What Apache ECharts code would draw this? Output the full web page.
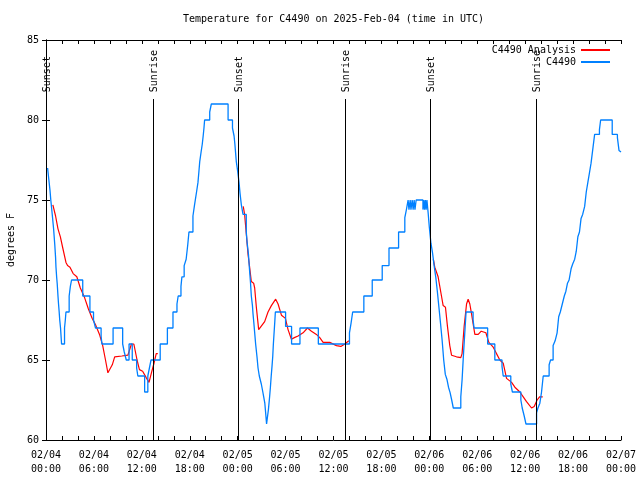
<!DOCTYPE html>
<html><head><meta charset="utf-8">
<script src="https://cdn.jsdelivr.net/npm/echarts@6/dist/echarts.min.js"></script>
<style>html,body{margin:0;padding:0;background:#fff}#c{width:640px;height:480px}</style>
</head><body><div id="c"></div>
<script>
// Hours since 2025-02-04 00:00 UTC
const blueHours = [0.2,0.35,0.5,0.6,0.7,0.8,0.95,1.1,1.2,1.25,1.33,1.4,1.5,1.57,1.65,1.72,1.82,1.95,2.32,2.42,2.5,2.9,3.05,3.2,4.6,5.5,5.95,6.2,6.9,7.0,8.4,9.6,9.8,10.05,10.4,10.8,11.35,11.5,12.35,12.75,12.95,13.15,14.3,15.2,15.9,16.4,16.55,16.9,17.02,17.3,17.55,17.75,17.9,18.4,18.6,18.85,19.03,19.15,19.25,19.42,19.57,19.68,19.78,19.86,20.5,20.7,22.8,23.35,23.55,23.65,23.83,24.0,24.17,24.3,24.46,24.67,25.08,25.17,25.35,25.46,25.6,25.71,25.85,25.92,26.03,26.13,26.25,26.42,26.55,26.71,26.96,27.15,27.26,27.4,27.47,27.62,27.85,28.0,28.1,28.2,28.3,28.39,28.47,28.56,28.65,28.72,30.0,30.75,31.8,34.1,38.0,38.2,38.4,39.8,40.85,42.1,42.95,44.15,44.93,45.13,45.34,45.45,45.6,45.7,45.85,45.97,46.1,46.2,46.35,47.2,47.3,47.4,47.5,47.6,47.7,47.85,48.0,48.2,48.4,48.6,48.8,49.0,49.2,49.4,49.6,49.8,50.0,50.2,50.4,50.6,50.8,51.0,51.94,52.1,52.28,52.44,52.6,53.48,53.6,55.3,56.2,57.1,57.25,58.2,58.4,59.46,59.63,59.88,60.1,61.43,61.6,61.84,62.05,62.26,63.0,63.18,63.5,63.75,64.0,64.2,64.4,64.65,64.9,65.1,65.3,65.5,65.75,65.95,66.2,66.4,66.6,66.8,67.0,67.2,67.45,67.65,67.85,68.05,68.25,68.5,68.7,69.3,69.45,70.9,71.55,71.75,72.0];
const blueTemps = [77.0,76.3,75.6,75.0,74.5,74.0,73.2,72.2,71.4,70.8,70.2,69.8,69.0,68.5,68.0,67.5,67.0,66.0,67.0,67.5,68.0,69.0,69.6,70.0,69.0,68.0,67.5,67.0,66.5,66.0,67.0,66.0,65.5,65.0,66.0,65.0,64.5,64.0,63.0,64.0,64.5,65.0,66.0,67.0,68.0,68.5,69.0,69.6,70.2,70.9,71.3,72.2,73.0,74.0,74.7,75.5,76.1,76.8,77.4,78.0,78.5,79.0,79.5,80.0,80.5,81.0,80.0,79.5,79.0,78.5,77.4,76.8,76.1,75.4,74.7,74.1,73.0,72.4,71.6,70.8,69.9,69.0,68.4,67.9,67.3,66.7,66.0,65.2,64.5,64.0,63.5,63.0,62.7,62.3,61.9,61.0,61.9,62.7,63.3,64.0,64.6,65.2,66.0,66.7,67.4,68.0,67.1,66.0,67.0,66.0,66.7,67.3,68.0,69.0,70.0,70.9,72.0,73.0,73.9,74.4,75.0,74.4,75.0,74.4,75.0,74.4,75.0,74.4,75.0,74.4,75.0,74.4,75.0,74.4,75.0,74.2,73.3,72.3,71.7,70.9,70.2,69.3,68.3,67.3,66.25,65.0,64.1,63.8,63.3,62.96,62.5,62.0,62.7,63.75,65.4,66.7,68.0,67.5,67.0,66.0,65.0,64.6,64.0,63.5,63.0,62.5,62.0,61.5,61.0,61.7,62.0,62.3,63.0,64.0,64.7,65.0,65.9,66.2,66.7,67.7,68.0,68.5,69.0,69.3,69.8,70.0,70.7,71.0,71.3,71.8,72.7,73.0,73.85,74.1,74.6,75.5,76.1,76.7,77.3,78.3,79.1,79.4,80.0,79.1,78.9,78.1,78.0];

const redHours = [0.86,1.0,1.2,1.5,1.8,2.1,2.5,2.7,3.0,3.4,3.86,4.3,4.83,5.3,5.79,6.2,6.7,7.1,7.45,7.75,8.0,8.3,8.6,9.5,10.25,10.7,11.0,11.4,11.7,12.1,12.55,12.9,13.2,13.5,13.8,14.0,
  14.1,
  24.7,24.87,25.08,25.3,25.5,25.71,26.0,26.13,26.34,26.63,26.88,27.38,27.8,28.22,28.76,29.06,29.48,29.98,30.31,30.73,31.1,31.56,32.19,32.74,33.24,33.86,34.28,34.7,35.53,36.37,36.92,37.42,37.92,
  38.0,
  48.5,48.68,49.1,49.52,49.73,50.02,50.27,50.56,50.78,51.4,51.94,52.1,52.36,52.66,52.86,53.07,53.28,53.7,54.12,54.5,54.74,55.08,55.45,56.0,56.41,56.83,57.25,57.67,58.3,58.71,59.34,59.76,60.17,60.8,61.13,61.5,61.8,62.2];
const redTemps = [74.7,74.6,74.0,73.2,72.7,72.0,71.1,70.9,70.8,70.4,70.2,69.5,68.9,68.2,67.6,67.2,66.6,65.9,65.0,64.2,64.2,64.7,65.2,65.25,65.3,66.0,66.0,65.0,64.4,64.3,63.9,63.6,64.2,64.75,65.4,65.4,
  null,
  74.6,74.1,72.9,71.6,70.8,69.9,69.8,69.5,68.3,66.9,66.8,67.4,68.0,68.4,68.8,68.5,67.8,67.6,66.9,66.3,66.4,66.5,66.7,67.0,66.8,66.6,66.4,66.1,66.1,65.9,65.85,66.0,66.2,
  null,
  71.3,70.8,70.2,69.0,68.4,68.3,67.1,65.9,65.3,65.2,65.15,65.4,67.1,68.5,68.8,68.5,67.9,66.6,66.6,66.8,66.8,66.7,66.1,65.8,65.4,65.0,64.8,63.85,63.6,63.3,63.0,62.7,62.4,62.0,62.1,62.5,62.7,62.7];

const sunHours = [0.02, 13.38, 24.04, 37.45, 48.1, 61.4];
const sunNames = ['Sunset','Sunrise','Sunset','Sunrise','Sunset','Sunrise'];
const sunTop = 81.3;

const FONT = 'DejaVu Sans Mono';
const chart = echarts.init(document.getElementById('c'), null, {renderer:'canvas'});

function xLabel(v){
  const d = 4 + Math.floor(v/24);
  const hh = Math.round(v % 24);
  return '02/' + String(d).padStart(2,'0') + '\n' + String(hh).padStart(2,'0') + ':00';
}

const axisCommon = {
  axisLine:{show:true, lineStyle:{color:'#000', width:1}},
  axisTick:{show:true, inside:true, length:4, lineStyle:{color:'#000'}},
  splitLine:{show:false}
};

chart.setOption({
  animation:false,
  backgroundColor:'#fff',
  title:{text:'Temperature for C4490 on 2025-Feb-04 (time in UTC)', left:183, top:14, padding:0,
    textStyle:{fontFamily:FONT, fontSize:10, fontWeight:'normal', color:'#000'}},
  legend:{orient:'vertical', right:30, top:45, padding:0, align:'right', itemGap:2,
    itemWidth:29, itemHeight:2, icon:'rect',
    textStyle:{fontFamily:FONT, fontSize:10, lineHeight:10, color:'#000'},
    data:['C4490 Analysis','C4490']},
  grid:{left:46, right:19, top:40, bottom:40, containLabel:false, outerBoundsMode:'none'},
  xAxis:[
    Object.assign({type:'value', min:0, max:72, interval:6, position:'bottom',
      minorTick:{show:true, splitNumber:3, length:4, lineStyle:{color:'#000'}},
      axisLabel:{formatter:xLabel, fontFamily:FONT, fontSize:10, color:'#000', lineHeight:14, margin:8}}, axisCommon),
    Object.assign({type:'value', min:0, max:72, interval:6, position:'top',
      minorTick:{show:true, splitNumber:3, length:4, lineStyle:{color:'#000'}},
      axisLabel:{show:false}}, axisCommon)
  ],
  yAxis:[
    Object.assign({type:'value', min:60, max:85, interval:5, position:'left',
      name:'degrees F', nameLocation:'middle', nameGap:30,
      nameTextStyle:{fontFamily:FONT, fontSize:10, color:'#000'},
      axisLabel:{fontFamily:FONT, fontSize:10, color:'#000', margin:7}}, axisCommon),
    Object.assign({type:'value', min:60, max:85, interval:5, position:'right',
      axisLabel:{show:false}}, axisCommon)
  ],
  series:[
    {name:'C4490 Analysis', type:'line', symbol:'none', connectNulls:false,
      data: redHours.map((h,i)=>[h, redTemps[i]===null ? '-' : redTemps[i]]),
      lineStyle:{color:'#ff0000', width:1.2}, itemStyle:{color:'#ff0000'}, z:2},
    {name:'C4490', type:'line', symbol:'none', step:'end',
      data: blueHours.map((h,i)=>[h, blueTemps[i]]),
      lineStyle:{color:'#0080ff', width:1.3}, itemStyle:{color:'#0080ff'}, z:3},
    {name:'sun', type:'custom', z:4, silent:true,
      data: sunHours.map(h=>[h, 60]),
      encode:{x:0, y:1},
      renderItem:function(params, api){
        const h = api.value(0);
        const top = api.coord([h, sunTop]);
        const bot = api.coord([h, 60]);
        const lx = Math.round(top[0]) + 0.5;
        return {type:'group', children:[
          {type:'line', shape:{x1:lx, y1:Math.round(top[1]), x2:lx, y2:bot[1]},
            style:{stroke:'#000', lineWidth:1}},
          {type:'text', x:lx+1, y:top[1]-7, rotation:Math.PI/2,
            style:{text:sunNames[params.dataIndex], align:'left', verticalAlign:'middle',
              font:'10px "' + FONT + '"', fill:'#000'}}
        ]};
      }}
  ]
});
</script></body></html>
